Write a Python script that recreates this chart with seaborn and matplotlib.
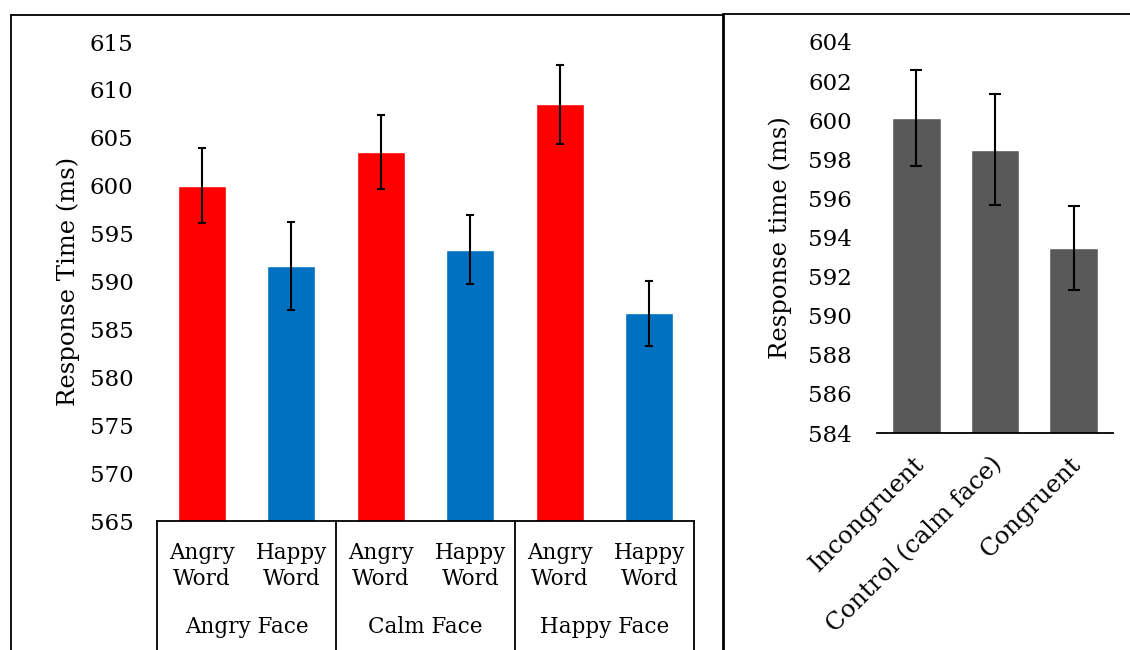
import numpy as np
import pandas as pd
import seaborn as sns
import matplotlib.pyplot as plt
from matplotlib.lines import Line2D
from matplotlib.transforms import ScaledTranslation

# ---- data -------------------------------------------------------------
word_labels = ["Angry\nWord", "Happy\nWord", "Angry\nWord", "Happy\nWord", "Angry\nWord", "Happy\nWord"]
face_labels = ["Angry Face", "Calm Face", "Happy Face"]
rt_means = [600.0, 591.6, 603.5, 593.3, 608.5, 586.7]
rt_errors = [3.9, 4.6, 3.85, 3.6, 4.1, 3.4]
bar_colors = ["#FF0000", "#0070C0", "#FF0000", "#0070C0", "#FF0000", "#0070C0"]
left_ticks = [565, 570, 575, 580, 585, 590, 595, 600, 605, 610, 615]

congruency = ["Incongruent", "Control (calm face)", "Congruent"]
cong_means = [600.1, 598.5, 593.45]
cong_errors = [2.45, 2.85, 2.15]
right_ticks = [584, 586, 588, 590, 592, 594, 596, 598, 600, 602, 604]

# ---- style ------------------------------------------------------------
sns.set_style("white")
plt.rcParams["font.family"] = ["DejaVu Serif"]
plt.rcParams["text.color"] = "black"
plt.rcParams["axes.labelcolor"] = "black"
plt.rcParams["xtick.color"] = "black"
plt.rcParams["ytick.color"] = "black"
FS_TICK = 16.5
FS_LABEL = 17.5
FS_CAT = 15.5

W, H = 1130, 650
fig = plt.figure(figsize=(W / 100, H / 100), dpi=100)


def fig_box(x0, x1, y_top, y_bot):
    return [x0 / W, (H - y_bot) / H, (x1 - x0) / W, (y_bot - y_top) / H]


# ---- left panel: condition means -------------------------------------
ax1 = fig.add_axes(fig_box(157, 694, 42, 521))
cond_ids = [f"c{i}" for i in range(len(rt_means))]
df1 = pd.DataFrame({"cond": cond_ids, "rt": rt_means})
sns.barplot(data=df1, x="cond", y="rt", hue="cond", palette=bar_colors,
            width=0.533, legend=False, ax=ax1, saturation=1)
ax1.errorbar(range(len(rt_means)), rt_means, yerr=rt_errors, fmt="none",
             ecolor="black", elinewidth=1.5, capsize=3, capthick=1.5)
ax1.set_ylim(left_ticks[0], left_ticks[-1])
ax1.set_yticks(left_ticks)
ax1.set_xlim(-0.5, len(rt_means) - 0.5)
ax1.tick_params(axis="y", length=0, pad=17, labelsize=FS_TICK)
ax1.set_xticks([])
ax1.set_xlabel("")
ax1.set_ylabel("Response Time (ms)", fontsize=FS_LABEL)
ax1.yaxis.set_label_coords(-0.143, 0.5)
for side in ["left", "right", "top"]:
    ax1.spines[side].set_visible(False)
ax1.spines["bottom"].set_color("black")
ax1.spines["bottom"].set_linewidth(1.3)

xt = ax1.get_xaxis_transform()
for i, lab in enumerate(word_labels):
    ax1.annotate(lab, xy=(i, 0), xycoords=xt, xytext=(0, -32.5),
                 textcoords="offset points", ha="center", va="center",
                 fontsize=FS_CAT, linespacing=1.2, annotation_clip=False)
for g, lab in enumerate(face_labels):
    ax1.annotate(lab, xy=(2 * g + 0.5, 0), xycoords=xt, xytext=(0, -76),
                 textcoords="offset points", ha="center", va="center",
                 fontsize=FS_CAT, annotation_clip=False)
for b in [-0.5, 1.5, 3.5, 5.5]:
    ax1.plot([b, b], [0, -0.3], transform=xt, color="black", lw=1.3,
             clip_on=False)

# ---- right panel: congruency means -----------------------------------
ax2 = fig.add_axes(fig_box(877, 1113, 42, 433))
df2 = pd.DataFrame({"cond": congruency, "rt": cong_means})
sns.barplot(data=df2, x="cond", y="rt", color="#595959", width=0.62,
            ax=ax2, saturation=1)
ax2.errorbar(range(len(cong_means)), cong_means, yerr=cong_errors, fmt="none",
             ecolor="black", elinewidth=1.5, capsize=4.3, capthick=1.5)
ax2.set_ylim(right_ticks[0], right_ticks[-1])
ax2.set_yticks(right_ticks)
ax2.set_xlim(-0.5, len(cong_means) - 0.5)
ax2.tick_params(axis="y", length=0, pad=18, labelsize=FS_TICK)
ax2.tick_params(axis="x", length=0, pad=14, labelsize=FS_LABEL)
ax2.set_xticks(range(len(congruency)))
ax2.set_xticklabels(congruency, rotation=45, ha="right",
                    rotation_mode="anchor")
shift = ScaledTranslation(-4 / 100, 0, fig.dpi_scale_trans)
for lab in ax2.get_xticklabels():
    lab.set_transform(lab.get_transform() + shift)
ax2.set_xlabel("")
ax2.set_ylabel("Response time (ms)", fontsize=FS_LABEL)
ax2.yaxis.set_label_coords(-0.36, 0.5)
for side in ["left", "right", "top"]:
    ax2.spines[side].set_visible(False)
ax2.spines["bottom"].set_color("black")
ax2.spines["bottom"].set_linewidth(1.3)

# ---- panel frames -----------------------------------------------------
def fline(xs, ys, lw):
    fig.add_artist(Line2D([x / W for x in xs], [(H - y) / H for y in ys],
                          color="black", lw=lw))

fline([11, 11], [15, H + 5], 1.3)
fline([11, 723], [15, 15], 1.3)
fline([723, 723], [14, H + 5], 2.0)
fline([723, W + 5], [14, 14], 1.3)

fig.savefig("out.png", dpi=100, facecolor="white")
